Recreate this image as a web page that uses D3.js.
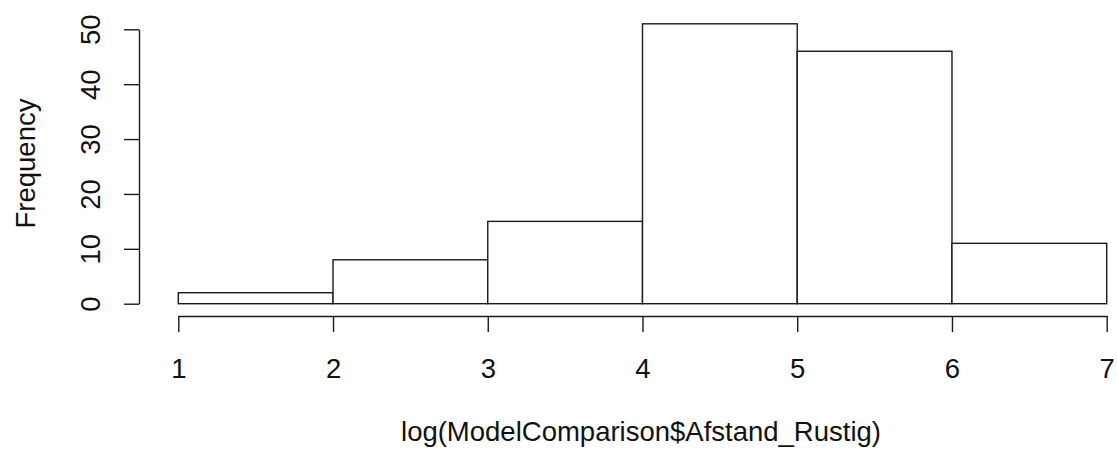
<!DOCTYPE html>
<html>
<head>
<meta charset="UTF-8">
<title>Histogram</title>
<script src="https://cdn.jsdelivr.net/npm/d3@7"></script>
<style>
  body { margin: 0; background: #fff; }
  text { font-family: "Liberation Sans", Arial, sans-serif; fill: #111; }
</style>
</head>
<body>
<script>
// histogram bins (break edges) and counts
var breaks = [1, 2, 3, 4, 5, 6, 7];
var counts = [2, 8, 15, 51, 46, 11];
var xTicks = [1, 2, 3, 4, 5, 6, 7];
var yTicks = [0, 10, 20, 30, 40, 50];
var xLabel = "log(ModelComparison$Afstand_Rustig)";
var yLabel = "Frequency";

var w = 1117, h = 455;

var svg = d3.select("body").append("svg")
    .attr("width", w)
    .attr("height", h);

var x = d3.scaleLinear().domain([1, 7]).range([178.3, 1106.7]);
var y = d3.scaleLinear().domain([0, 50]).range([303.7, 29.3]);

var bins = counts.map(function(c, i){ return {x0: breaks[i], x1: breaks[i+1], n: c}; });

svg.selectAll("rect.bar").data(bins).enter().append("rect")
    .attr("class", "bar")
    .attr("x", function(d){ return x(d.x0); })
    .attr("y", function(d){ return y(d.n); })
    .attr("width", function(d){ return x(d.x1) - x(d.x0); })
    .attr("height", function(d){ return y(0) - y(d.n); })
    .attr("fill", "#fff")
    .attr("stroke", "#1a1a1a")
    .attr("stroke-width", 1.4);

// x axis, R style: detached below the bars
var gx = svg.append("g")
    .attr("transform", "translate(0,316)")
    .call(d3.axisBottom(x).tickValues(xTicks).tickFormat(d3.format("d"))
        .tickSize(16).tickSizeOuter(0).tickPadding(26));
gx.select(".domain").attr("stroke", "#1a1a1a").attr("stroke-width", 1.4);
gx.selectAll(".tick line").attr("stroke", "#1a1a1a").attr("stroke-width", 1.4);
gx.selectAll("text").style("font-size", "27.5px").attr("fill", "#111")
    .style("font-family", "'Liberation Sans', Arial, sans-serif");

// y axis with rotated labels
var gy = svg.append("g")
    .attr("transform", "translate(139,0)")
    .call(d3.axisLeft(y).tickValues(yTicks).tickSize(15).tickSizeOuter(0));
gy.select(".domain").attr("stroke", "#1a1a1a").attr("stroke-width", 1.4);
gy.selectAll(".tick line").attr("stroke", "#1a1a1a").attr("stroke-width", 1.4);
gy.selectAll("text")
    .attr("x", null).attr("dy", null)
    .attr("text-anchor", "middle")
    .attr("transform", "translate(-39,0) rotate(-90)")
    .style("font-size", "27.5px").attr("fill", "#111")
    .style("font-family", "'Liberation Sans', Arial, sans-serif");

svg.append("text")
    .attr("x", 641).attr("y", 441)
    .attr("text-anchor", "middle")
    .style("font-size", "27.5px")
    .text(xLabel);

svg.append("text")
    .attr("transform", "translate(35,163.5) rotate(-90)")
    .attr("text-anchor", "middle")
    .style("font-size", "27.5px")
    .text(yLabel);
</script>
</body>
</html>
